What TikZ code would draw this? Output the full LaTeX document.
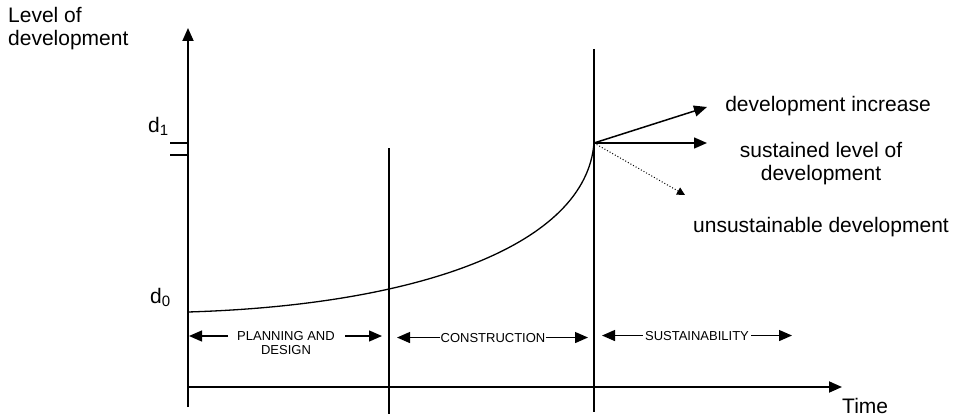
\documentclass[tikz,border=0pt]{standalone}
\usepackage{fontspec}
\setmainfont{Liberation Sans}
\usetikzlibrary{positioning,arrows.meta}

\newcommand{\dlevel}[1]{d\raisebox{-0.35ex}{\fontsize{15}{15}\selectfont #1}}

\begin{document}
\begin{tikzpicture}[x=1pt, y=-1pt, >={Triangle[length=13pt,width=11pt]},
		axis/.style={line width=1.8pt},
		curve/.style={line width=1.3pt},
		outcome/.style={line width=1.5pt, ->},
		phase/.style={line width=1.3pt, ->},
		big/.style={font=\fontsize{21}{23}\selectfont, inner sep=0pt, align=center},
		small/.style={font=\fontsize{13}{14}\selectfont, inner sep=0pt, align=center}]
		\useasboundingbox (0,0) rectangle (955,417);

		% axes
		\coordinate (O) at (188,387);
		\coordinate (ytop) at (188,28);
		\coordinate (ybot) at (188,407);
		\coordinate (xend) at (842,387);
		\draw[axis, ->] (ybot) -- (ytop);
		\draw[axis, ->] (O) -- (xend);

		% phase boundaries
		\coordinate (b1top) at (389,148);
		\coordinate (b1bot) at (389,414);
		\coordinate (b2top) at (594,49);
		\coordinate (b2bot) at (594,412);
		\draw[axis] (b1top) -- (b1bot);
		\draw[axis] (b2top) -- (b2bot);

		% d1 marks
		\coordinate (m1) at (170,143);
		\coordinate (m2) at (170,155);
		\draw[line width=1.5pt] (m1) -- (m1 -| O);
		\draw[line width=1.5pt] (m2) -- (m2 -| O);

		% development curve
		\coordinate (start) at (188,312);
		\coordinate (peak) at (594,143);
		\draw[curve] (start) .. controls (420,305) and (586,245) .. (peak);

		% outcomes
		\coordinate (inc) at (707,107);
		\coordinate (sus) at (707,143);
		\coordinate (uns) at (685,195);
		\draw[outcome] (peak) -- (inc);
		\draw[outcome] (peak) -- (sus);
		\draw[line width=1pt, dotted, -{Triangle[length=8pt,width=8pt]}] (peak) -- (uns);

		% labels
		\node[big, anchor=north west, align=left] (ylbl) at (8,7) {Level of\\development};
		\node[big, anchor=base west] (xlbl) at (842,413) {Time};
		\node[big, anchor=base west] (d1) at (148,132) {\dlevel{1}};
		\node[big, anchor=base west] (d0) at (150,303) {\dlevel{0}};
		\node[big, anchor=base] (incl) at (828,112) {development increase};
		\node[big, anchor=north] (susl) at (821,142) {sustained level of\\development};
		\node[big, anchor=base] (unsl) at (821,232) {unsustainable development};

		% phases
		\node[small, anchor=north] (plan) at (286,331.5) {PLANNING AND\\DESIGN};
		\node[small, anchor=base] (constr) at (493,342) {CONSTRUCTION};
		\node[small, anchor=base] (sust) at (697,340) {SUSTAINABILITY};

		\coordinate (planl) at (228,336);
		\coordinate (planr) at (345,336);
		\coordinate (planlt) at (189,336);
		\coordinate (planrt) at (382,336);
		\draw[phase] (planl) -- (planlt);
		\draw[phase] (planr) -- (planrt);

		\coordinate (constrlt) at (397,336);
		\coordinate (constrrt) at (588,336);
		\draw[phase] (constr.west) -- (constrlt |- constr.west);
		\draw[phase] (constr.east) -- (constrrt |- constr.east);

		\coordinate (sustlt) at (602,335);
		\coordinate (sustrt) at (792,335);
		\draw[phase] ([xshift=-2pt]sust.west) -- (sustlt |- sust.west);
		\draw[phase] ([xshift=2pt]sust.east) -- (sustrt |- sust.east);
	\end{tikzpicture}
\end{document}
